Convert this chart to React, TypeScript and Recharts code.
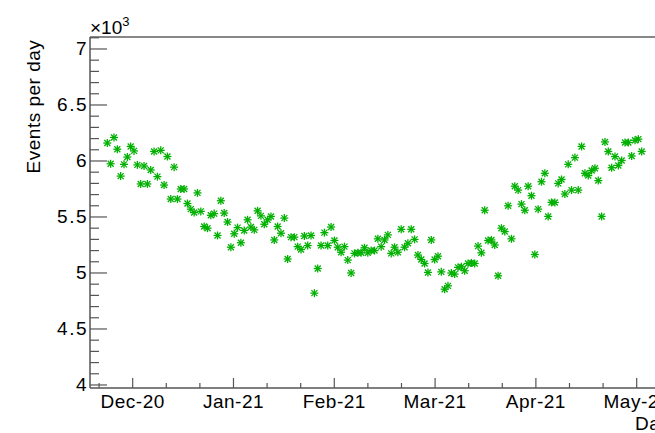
import React from "react";
import { ScatterChart, Scatter, XAxis, YAxis, ReferenceLine } from "recharts";

// events recorded per day, index 0 = first day of the run
const eventsPerDay: number[] = [
  6160, 5975, 6210, 6105, 5865, 5970, 6035, 6130, 6090, 5965,
  5795, 5955, 5795, 5920, 6085, 5860, 6095, 5785, 6040, 5660,
  5945, 5660, 5750, 5750, 5620, 5570, 5540, 5715, 5550, 5415,
  5400, 5515, 5530, 5335, 5645, 5535, 5455, 5230, 5350, 5405,
  5270, 5380, 5475, 5410, 5385, 5555, 5510, 5435, 5475, 5505,
  5295, 5415, 5355, 5490, 5125, 5320, 5320, 5235, 5210, 5330,
  5245, 5335, 4820, 5040, 5245, 5360, 5245, 5410, 5290, 5230,
  5185, 5235, 5115, 5000, 5175, 5180, 5180, 5225, 5180, 5200,
  5200, 5305, 5235, 5295, 5340, 5175, 5230, 5185, 5390, 5230,
  5265, 5390, 5300, 5160, 5120, 5085, 5005, 5295, 5120, 5150,
  5010, 4855, 4885, 5000, 4990, 5050, 5055, 5020, 5085, 5090,
  5085, 5240, 5180, 5560, 5290, 5295, 5250, 4975, 5400, 5370,
  5600, 5305, 5775, 5740, 5615, 5560, 5775, 5690, 5165, 5570,
  5815, 5890, 5505, 5630, 5630, 5800, 5835, 5705, 5970, 5740,
  6030, 5740, 6130, 5890, 5870, 5915, 5935, 5825, 5505, 6170,
  6085, 5940, 6040, 5960, 6005, 6165, 6165, 6045, 6185, 6195,
  6085,
];

const monthLabels = ["Dec-20", "Jan-21", "Feb-21", "Mar-21", "Apr-21", "May-21"];
const firstMonthTick = 7.6; // day of the first labelled division
const monthStep = 30.18; // days between labelled divisions

const yMajorTicks = [4000, 4500, 5000, 5500, 6000, 6500, 7000];

const dayDomain: [number, number] = [-5.18, 170.27];
const eventsDomain: [number, number] = [3973, 7107];

const WIDTH = 705;
const HEIGHT = 433;
const FONT = "'Liberation Sans', Arial, Helvetica, sans-serif";
const GREEN = "#00b000";
const AXIS = "#555";

const points = eventsPerDay.map((events, day) => ({ day, events }));

// x divisions: three per month, labels only on the first of each three
const xTicks: number[] = [];
const monthLabelAt = new Map<number, string>();
for (let i = -1; ; i++) {
  const t = +(firstMonthTick + (i * monthStep) / 3).toFixed(3);
  if (t > dayDomain[1]) break;
  xTicks.push(t);
  if (i >= 0 && i % 3 === 0 && monthLabels[i / 3]) monthLabelAt.set(t, monthLabels[i / 3]);
}

const yTicks: number[] = [];
for (let v = 4000; v <= 7100; v += 100) yTicks.push(v);

const labelStyle = { fontFamily: FONT, fontSize: 19, letterSpacing: 0.5, fill: "#000" };

const XTick = (props: any) => {
  const { x, y, payload } = props;
  const label = monthLabelAt.get(payload.value);
  return (
    <g>
      <line x1={x} x2={x} y1={y} y2={y - (label ? 10 : 5)} stroke={AXIS} strokeWidth={1.2} />
      {label && (
        <text x={x} y={y + 19.5} textAnchor="middle" style={labelStyle}>
          {label}
        </text>
      )}
    </g>
  );
};

const YTick = (props: any) => {
  const { x, y, payload } = props;
  const major = yMajorTicks.includes(payload.value);
  return (
    <g>
      <line x1={x} x2={x + (major ? 17 : 9)} y1={y} y2={y} stroke={AXIS} strokeWidth={1.2} />
      {major && (
        <text x={x - 2} y={y + 6.5} textAnchor="end" style={{ ...labelStyle, letterSpacing: 1.5 }}>
          {String(payload.value / 1000)}
        </text>
      )}
    </g>
  );
};

// ROOT-style "*" marker
const StarMarker = ({ cx, cy }: { cx?: number; cy?: number }) => {
  if (cx == null || cy == null) return null;
  const r = 4;
  const d = 3;
  return (
    <g stroke={GREEN} strokeWidth={1.3}>
      <line x1={cx - r} x2={cx + r} y1={cy} y2={cy} />
      <line x1={cx} x2={cx} y1={cy - r} y2={cy + r} />
      <line x1={cx - d} x2={cx + d} y1={cy - d} y2={cy + d} />
      <line x1={cx - d} x2={cx + d} y1={cy + d} y2={cy - d} />
    </g>
  );
};

export default function App() {
  return (
    <div
      style={{
        position: "fixed",
        left: 0,
        top: 0,
        width: 655,
        height: 433,
        overflow: "hidden",
        background: "#fff",
      }}
    >
      <ScatterChart width={WIDTH} height={HEIGHT} margin={{ top: 37, right: 29, bottom: 0, left: 0 }}>
        <XAxis
          type="number"
          dataKey="day"
          domain={dayDomain}
          ticks={xTicks}
          interval={0}
          allowDataOverflow
          height={45}
          tickSize={0}
          tickMargin={0}
          tickLine={false}
          axisLine={{ stroke: AXIS, strokeWidth: 1.5 }}
          tick={<XTick />}
        />
        <YAxis
          type="number"
          dataKey="events"
          domain={eventsDomain}
          ticks={yTicks}
          interval={0}
          allowDataOverflow
          width={90}
          tickSize={0}
          tickMargin={0}
          tickLine={false}
          axisLine={{ stroke: AXIS, strokeWidth: 1.5 }}
          tick={<YTick />}
        />
        <ReferenceLine y={eventsDomain[1]} stroke="#888" strokeWidth={2} />
        <Scatter
          data={points}
          isAnimationActive={false}
          shape={(p: any) => <StarMarker cx={p.cx} cy={p.cy} />}
        />
      </ScatterChart>
      <svg
        width={655}
        height={433}
        style={{ position: "absolute", left: 0, top: 0, pointerEvents: "none" }}
      >
        <text x={90} y={33.5} fontFamily={FONT} fontSize={19} fill="#000">
          ×10
          <tspan fontSize={13} dy={-7.5}>
            3
          </tspan>
        </text>
        <text
          transform="translate(40,106.5) rotate(-90)"
          textAnchor="middle"
          style={labelStyle}
        >
          Events per day
        </text>
        <text x={635} y={430} style={labelStyle}>
          Date
        </text>
      </svg>
    </div>
  );
}
